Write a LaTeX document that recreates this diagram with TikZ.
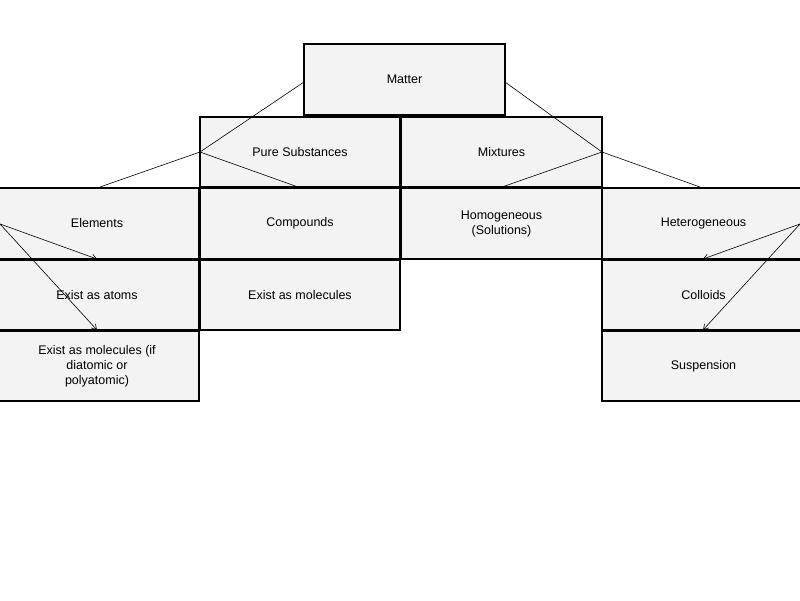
\documentclass[tikz,border=0pt]{standalone}
\usepackage{fontspec}
\setmainfont{Liberation Sans}
\usetikzlibrary{arrows.meta}
\begin{document}
\begin{tikzpicture}[x=1pt,y=-1pt,
 box/.style={draw=black,line width=1.2pt,fill={rgb,255:red,243;green,243;blue,243},font=\fontsize{12.5}{15}\selectfont,align=center},
 ln/.style={line width=0.6pt},
 ar/.style={ln,-{Straight Barb[length=5pt,width=6pt]}}]
\useasboundingbox (0,0) rectangle (800,600);
\def\bx#1#2#3#4#5#6{\draw[box] (#2,#3) rectangle (#4,#5); \node[font=\fontsize{12.5}{15}\selectfont,align=center] (#1) at ({(#2+#4)/2},{(#3+#5)/2}) {#6};}
\bx{m}{304}{44}{505}{115}{Matter}
\bx{p}{200}{117}{400}{187}{Pure Substances}
\bx{x}{401}{117}{602}{187}{Mixtures}
\bx{e}{-5}{188}{199}{259}{Elements}
\bx{c}{200}{188}{400}{259}{Compounds}
\bx{h}{401}{188}{602}{259}{Homogeneous\\(Solutions)}
\bx{t}{602}{188}{805}{259}{Heterogeneous}
\bx{a}{-5}{260}{199}{330}{Exist as atoms}
\bx{em}{200}{260}{400}{330}{Exist as molecules}
\bx{co}{602}{260}{805}{330}{Colloids}
\bx{d}{-5}{331}{199}{401}{Exist as molecules (if\\diatomic or\\polyatomic)}
\bx{s}{602}{331}{805}{401}{Suspension}
\coordinate (mL) at (304,82); \coordinate (mR) at (505,82);
\coordinate (pL) at (200,152); \coordinate (xR) at (602,152);
\coordinate (eT) at (100,187); \coordinate (cT) at (298,187);
\coordinate (hT) at (502,187); \coordinate (tT) at (700,187);
\coordinate (eL) at (0,224); \coordinate (tR) at (800,224);
\coordinate (aT) at (97,259); \coordinate (dT) at (97,330);
\coordinate (coT) at (703,259); \coordinate (sT) at (703,330);
\draw[ln] (mL)--(pL); \draw[ln] (pL)--(eT); \draw[ln] (pL)--(cT);
\draw[ln] (mR)--(xR); \draw[ln] (xR)--(hT); \draw[ln] (xR)--(tT);
\draw[ar] (eL)--(aT); \draw[ar] (eL)--(dT);
\draw[ar] (tR)--(coT); \draw[ar] (tR)--(sT);
\end{tikzpicture}
\end{document}
